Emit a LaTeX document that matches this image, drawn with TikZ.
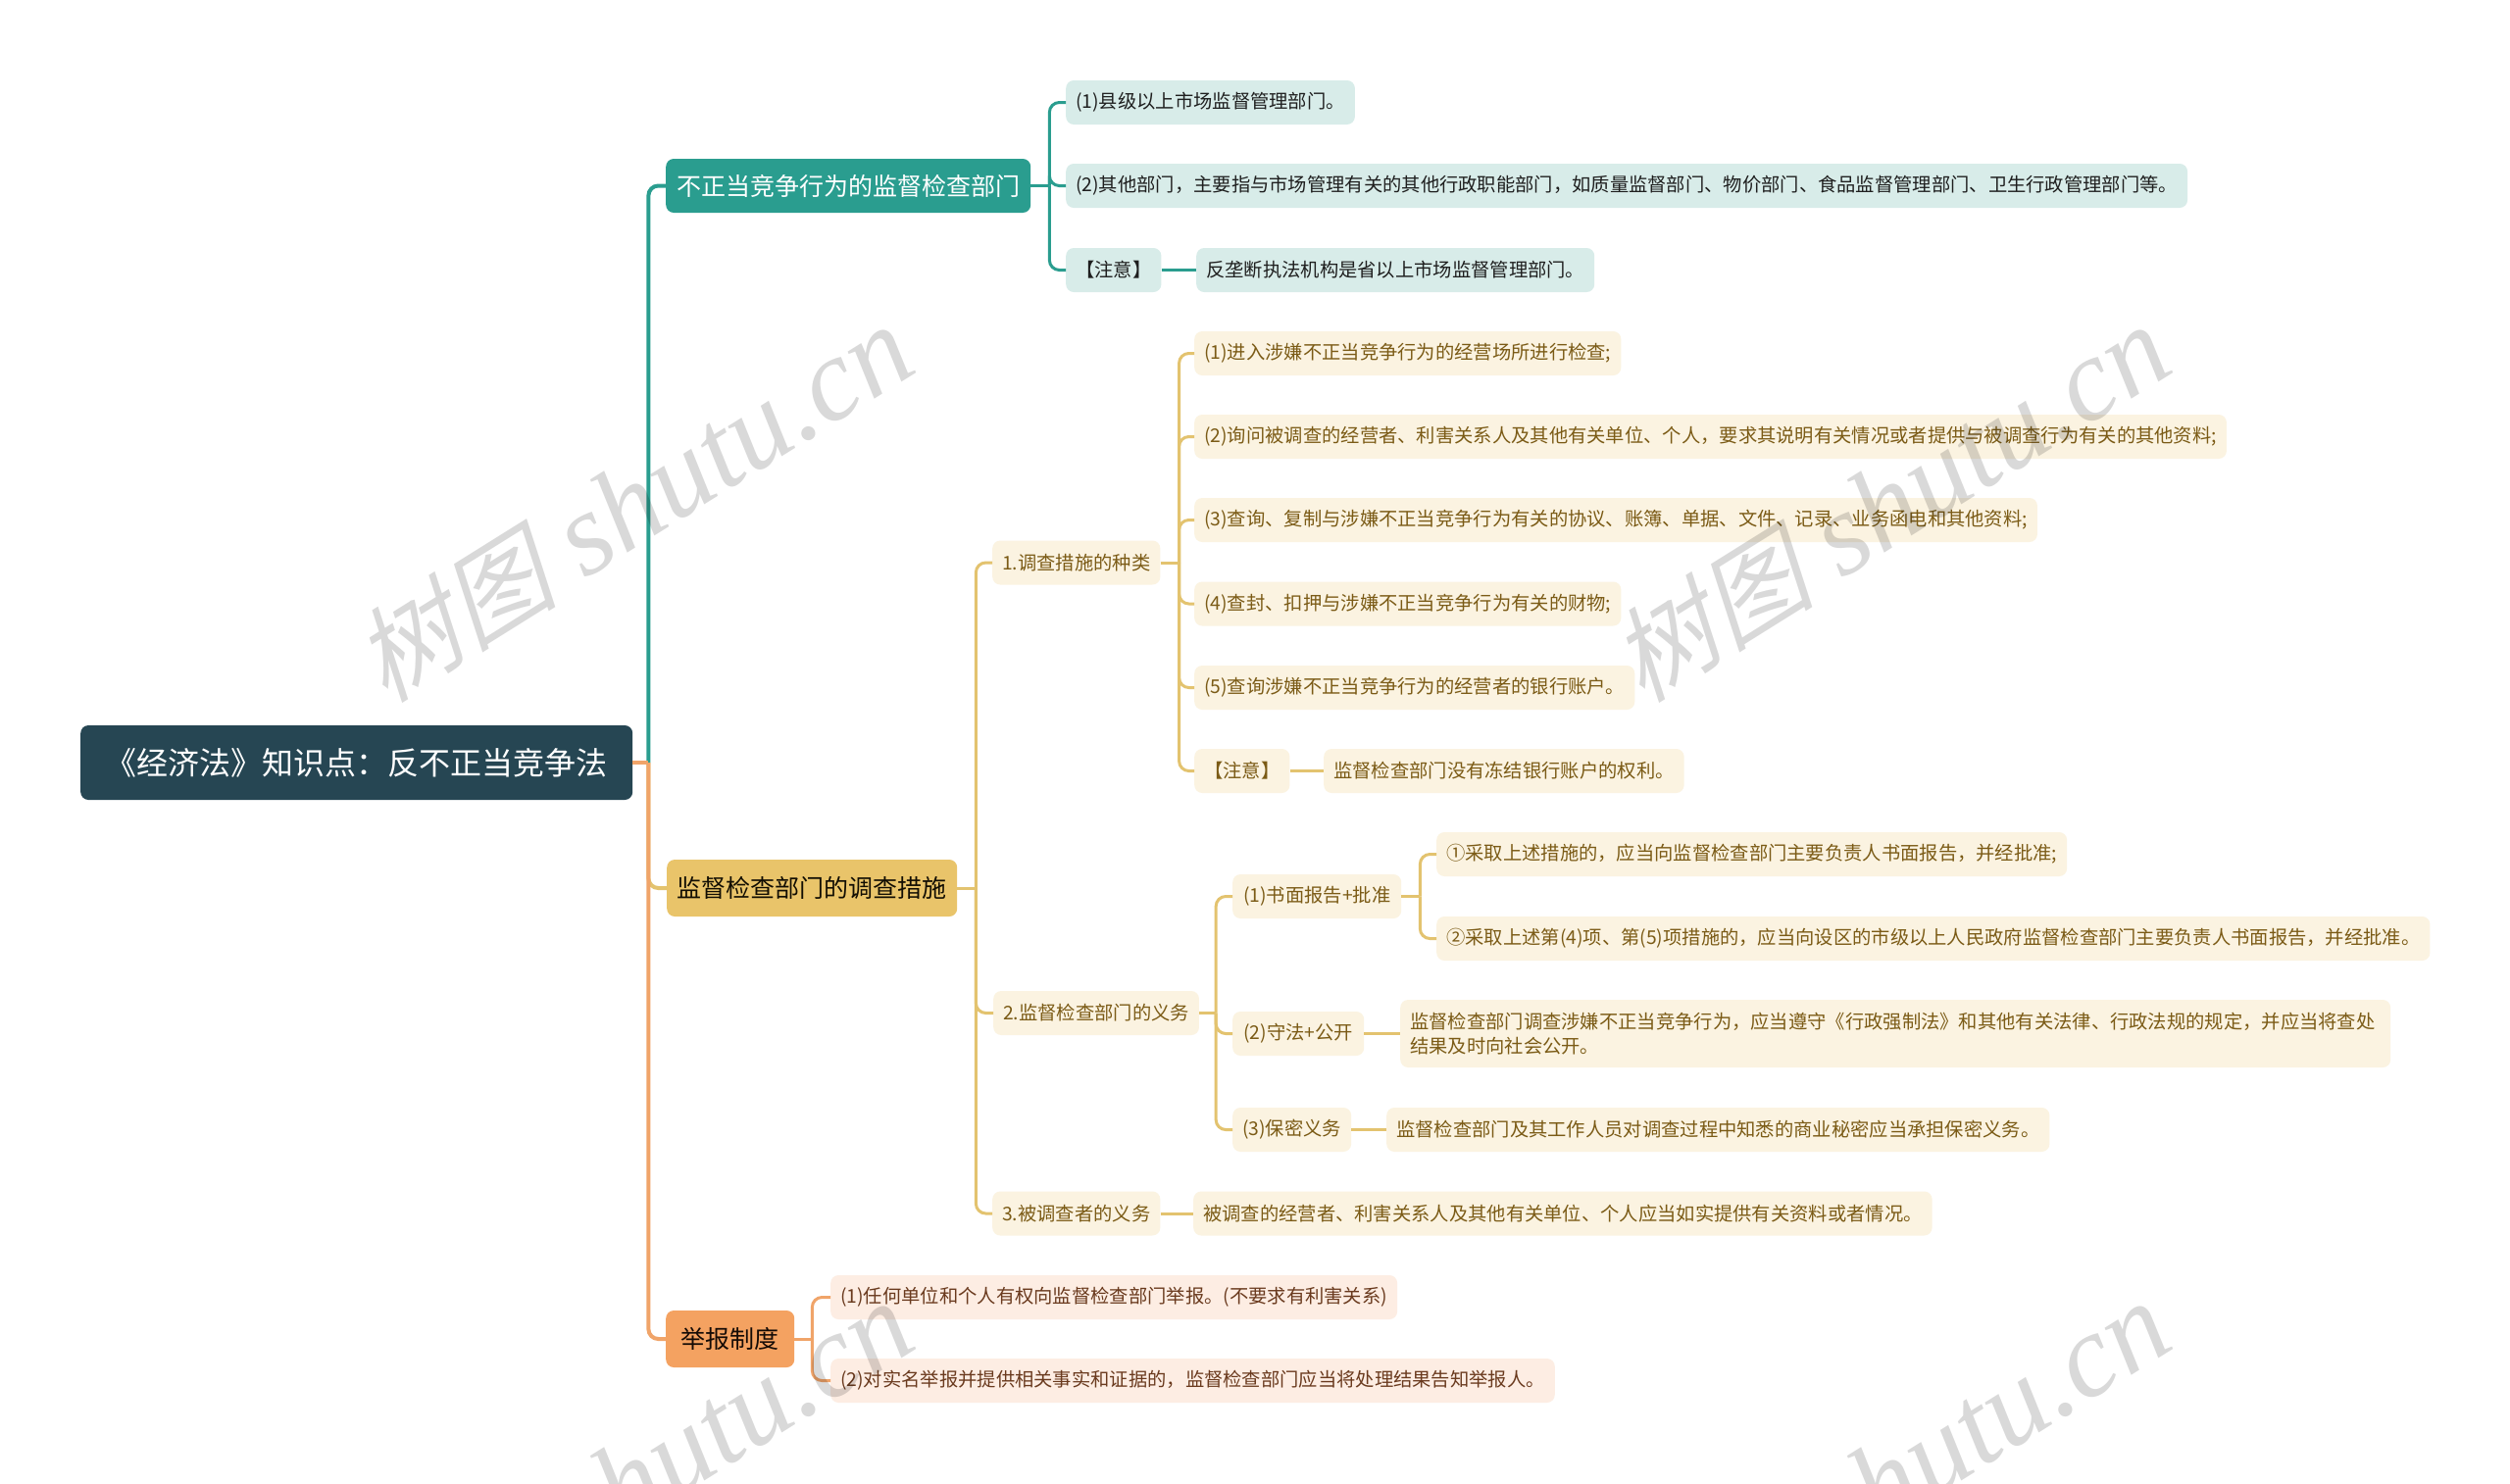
\documentclass[tikz,border=0pt]{standalone}
\usepackage{fontspec}
\setmainfont{Noto Sans CJK SC}
\newfontfamily\wmlatin{Liberation Serif}
\newfontfamily\wmcjk[FakeSlant=0.25]{Noto Sans CJK SC}
\usetikzlibrary{calc}
\definecolor{rootc}{HTML}{264653}
\definecolor{tealc}{HTML}{2A9D8F}
\definecolor{tealL}{HTML}{D8ECE9}
\definecolor{goldc}{HTML}{E9C46A}
\definecolor{goldline}{HTML}{E3C36F}
\definecolor{goldL}{HTML}{FBF3E1}
\definecolor{goldT}{HTML}{7B5B16}
\definecolor{orc}{HTML}{F4A261}
\definecolor{orline}{HTML}{F0A469}
\definecolor{orL}{HTML}{FDEDE3}
\definecolor{orT}{HTML}{6A3A1E}
\tikzset{
  base/.style={rounded corners=8pt, inner xsep=10pt, inner ysep=0pt, anchor=west,
    font=\fontsize{19.3}{25}\selectfont},
  rootn/.style={base, fill=rootc, text=white, minimum height=76pt,
    font=\fontsize{32}{36}\selectfont},
  mainA/.style={base, fill=tealc, text=white, minimum height=55pt,
    font=\fontsize{25}{30}\selectfont},
  mainB/.style={base, fill=goldc, text=black!85!goldT, minimum height=58pt,
    font=\fontsize{25}{30}\selectfont},
  mainC/.style={base, fill=orc, text=black!80!orT, minimum height=58pt,
    font=\fontsize{25}{30}\selectfont},
  lt/.style={base, fill=tealL, text=black!88, minimum height=45pt},
  lg/.style={base, fill=goldL, text=goldT, minimum height=45pt},
  lo/.style={base, fill=orL, text=orT, minimum height=45pt},
  tline/.style={draw=tealc, line width=3pt, rounded corners=10pt},
  gline/.style={draw=goldline, line width=3pt, rounded corners=10pt},
  oline/.style={draw=orline, line width=3pt, rounded corners=10pt},
  trunk/.style={line width=4pt, rounded corners=10pt},
  wm/.style={text=black, text opacity=0.15, inner sep=0pt}
}
\begin{document}
\begin{tikzpicture}[x=1pt,y=-1pt]
\useasboundingbox (0,0) rectangle (2560,1513);
\fill[white] (0,0) rectangle (2560,1513);

% root and main branches
\node[rootn, minimum width=563pt] (root) at (82,778) {《经济法》知识点：反不正当竞争法};
\node[mainA, minimum width=372pt] (A) at (679,189.5) {不正当竞争行为的监督检查部门};
\node[mainB, minimum width=296pt] (B) at (680,906) {监督检查部门的调查措施};
\node[mainC, minimum width=131pt] (C) at (679,1366) {举报制度};

% A children
\node[lt, minimum width=293pt] (A1) at (1087,104.5) {(1)县级以上市场监督管理部门。};
\node[lt, minimum width=1140pt] (A2) at (1087,189.5) {(2)其他部门，主要指与市场管理有关的其他行政职能部门，如质量监督部门、物价部门、食品监督管理部门、卫生行政管理部门等。};
\node[lt, minimum width=95pt] (A3) at (1087,275.5) {【注意】};
\node[lt, minimum width=402pt] (A3a) at (1220,275.5) {反垄断执法机构是省以上市场监督管理部门。};

% B children
\node[lg, minimum width=170pt] (B1) at (1012,574) {1.调查措施的种类};
\node[lg, minimum width=433pt] (B1a) at (1218,360.5) {(1)进入涉嫌不正当竞争行为的经营场所进行检查;};
\node[lg, minimum width=1049pt] (B1b) at (1218,445.5) {(2)询问被调查的经营者、利害关系人及其他有关单位、个人，要求其说明有关情况或者提供与被调查行为有关的其他资料;};
\node[lg, minimum width=857pt] (B1c) at (1218,530.5) {(3)查询、复制与涉嫌不正当竞争行为有关的协议、账簿、单据、文件、记录、业务函电和其他资料;};
\node[lg, minimum width=433pt] (B1d) at (1218,616) {(4)查封、扣押与涉嫌不正当竞争行为有关的财物;};
\node[lg, minimum width=448pt] (B1e) at (1218,701.5) {(5)查询涉嫌不正当竞争行为的经营者的银行账户。};
\node[lg, minimum width=96pt] (B1f) at (1218,786.5) {【注意】};
\node[lg, minimum width=366pt] (B1g) at (1350,786.5) {监督检查部门没有冻结银行账户的权利。};

\node[lg, minimum width=208pt] (B2) at (1013,1033.5) {2.监督检查部门的义务};
\node[lg, minimum width=172pt] (B2a) at (1257,914.5) {(1)书面报告+批准};
\node[lg, minimum width=640pt] (B2a1) at (1465,871.5) {①采取上述措施的，应当向监督检查部门主要负责人书面报告，并经批准;};
\node[lg, minimum width=1012pt] (B2a2) at (1465,957.5) {②采取上述第(4)项、第(5)项措施的，应当向设区的市级以上人民政府监督检查部门主要负责人书面报告，并经批准。};
\node[lg, minimum width=134pt] (B2b) at (1257,1054.5) {(2)守法+公开};
\node[lg, minimum height=69pt, text width=990pt, align=left] (B2b1) at (1428,1054.5) {监督检查部门调查涉嫌不正当竞争行为，应当遵守《行政强制法》和其他有关法律、行政法规的规定，并应当将查处\\结果及时向社会公开。};
\node[lg, minimum width=120pt] (B2c) at (1257,1152.5) {(3)保密义务};
\node[lg, minimum width=672pt] (B2c1) at (1414,1152.5) {监督检查部门及其工作人员对调查过程中知悉的商业秘密应当承担保密义务。};

\node[lg, minimum width=170pt] (B3) at (1012,1238) {3.被调查者的义务};
\node[lg, minimum width=751pt] (B3a) at (1217,1238) {被调查的经营者、利害关系人及其他有关单位、个人应当如实提供有关资料或者情况。};

% C children
\node[lo, minimum width=575pt] (C1) at (847,1323.5) {(1)任何单位和个人有权向监督检查部门举报。(不要求有利害关系)};
\node[lo, minimum width=735pt] (C2) at (847,1408.5) {(2)对实名举报并提供相关事实和证据的，监督检查部门应当将处理结果告知举报人。};

% junctions
\coordinate (rj) at ($(root.east)+(16,0)$);
\coordinate (aj) at ($(A.east)+(19,0)$);
\coordinate (bj) at ($(B.east)+(19,0)$);
\coordinate (b1j) at ($(B1.east)+(19,0)$);
\coordinate (b2j) at ($(B2.east)+(17,0)$);
\coordinate (b2aj) at ($(B2a.east)+(19,0)$);
\coordinate (cj) at ($(C.east)+(18,0)$);

% root connectors
\draw[gline, trunk] (rj) |- (B.west);
\draw[tline, trunk] (rj) |- (A.west);
\draw[oline, trunk] (rj) |- (C.west);
\draw[oline, trunk] (root.east) -- (rj);

% A connectors
\draw[tline] (A.east) -- (aj);
\draw[tline] (aj) |- (A1.west);
\draw[tline] (aj) |- (A2.west);
\draw[tline] (aj) |- (A3.west);
\draw[tline] (A3.east) -- (A3a.west);

% B connectors
\draw[gline] (B.east) -- (bj);
\draw[gline] (bj) |- (B1.west);
\draw[gline] (bj) |- (B2.west);
\draw[gline] (bj) |- (B3.west);
\draw[gline] (B1.east) -- (b1j);
\foreach \n in {B1a,B1b,B1c,B1d,B1e,B1f} \draw[gline] (b1j) |- (\n.west);
\draw[gline] (B1f.east) -- (B1g.west);
\draw[gline] (B2.east) -- (b2j);
\foreach \n in {B2a,B2b,B2c} \draw[gline] (b2j) |- (\n.west);
\draw[gline] (B2a.east) -- (b2aj);
\draw[gline] (b2aj) |- (B2a1.west);
\draw[gline] (b2aj) |- (B2a2.west);
\draw[gline] (B2b.east) -- (B2b1.west);
\draw[gline] (B2c.east) -- (B2c1.west);
\draw[gline] (B3.east) -- (B3a.west);

% C connectors
\draw[oline] (C.east) -- (cj);
\draw[oline] (cj) |- (C1.west);
\draw[oline] (cj) |- (C2.west);

% watermarks
\foreach \p [count=\i] in {(645,514),(1927,514),(645,1510),(1927,1510)}
  \node[wm, rotate=32] (wm\i) at \p {{\wmcjk\fontsize{105}{105}\selectfont 树图}\hspace{30pt}{\wmlatin\itshape\fontsize{120}{120}\selectfont shutu.cn}};
\end{tikzpicture}
\end{document}
